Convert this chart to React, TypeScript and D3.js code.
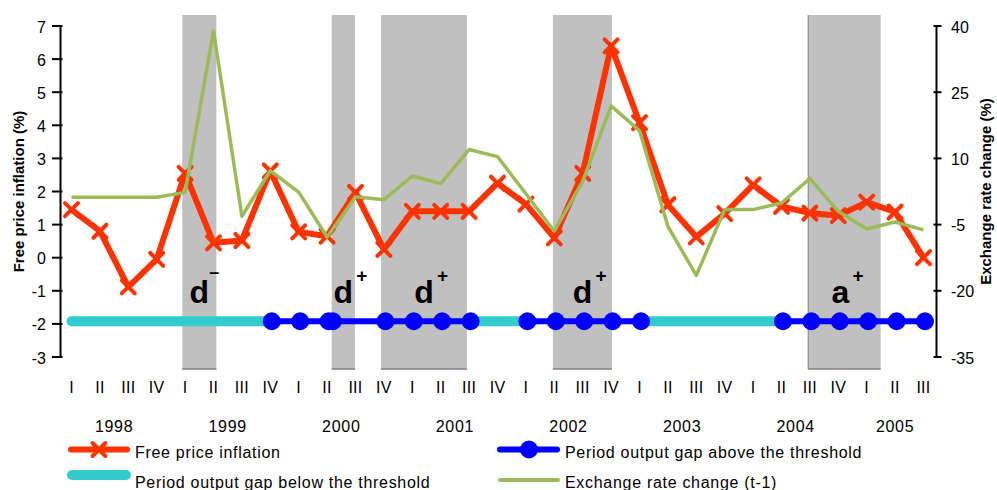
import React from "react";
import * as d3 from "d3";

// ---------- data ----------
const quarterLabels = [
  "I", "II", "III", "IV", "I", "II", "III", "IV", "I", "II", "III", "IV",
  "I", "II", "III", "IV", "I", "II", "III", "IV", "I", "II", "III", "IV",
  "I", "II", "III", "IV", "I", "II", "III",
];
const quarterYears = [
  "1998", "1998", "1998", "1998", "1999", "1999", "1999", "1999",
  "2000", "2000", "2000", "2000", "2001", "2001", "2001", "2001",
  "2002", "2002", "2002", "2002", "2003", "2003", "2003", "2003",
  "2004", "2004", "2004", "2004", "2005", "2005", "2005",
];
const years = ["1998", "1999", "2000", "2001", "2002", "2003", "2004", "2005"];

const freePriceInflation = [
  1.45, 0.8, -0.88, -0.05, 2.55, 0.45, 0.52, 2.62, 0.78, 0.65, 1.97, 0.25,
  1.4, 1.4, 1.4, 2.25, 1.62, 0.6, 2.55, 6.4, 4.08, 1.6, 0.63, 1.33,
  2.2, 1.55, 1.35, 1.27, 1.68, 1.38, 0.0,
];
const exchangeRateChange = [
  1.2, 1.2, 1.2, 1.2, 2.3, 38.9, -3.1, 7.2, 2.35, -7.8, 1.3, 0.65,
  6.0, 4.3, 12.0, 10.4, 2.0, -6.5, 4.8, 21.9, 16.3, -5.4, -16.5, -1.6,
  -1.6, -0.1, 5.4, -2.0, -6.0, -4.4, -6.2,
];
// 1 = output gap above the threshold, 0 = below
const gapAboveThreshold = [
  0, 0, 0, 0, 0, 0, 0, 1, 1, 1, 1, 1, 1, 1, 1, 0,
  1, 1, 1, 1, 1, 0, 0, 0, 0, 1, 1, 1, 1, 1, 1,
];
const gapMarkerQuarters = [7, 8, 9, 9.15, 11, 12, 13, 14, 16, 17, 18, 19, 20, 25, 26, 27, 28, 29, 30];
const gapLevel = -1.92;

const periodStart = [3.9, 9.16, 10.9, 16.95, 25.94];
const periodEnd = [5.1, 9.98, 13.92, 19.03, 28.49];
const periodLetter = ["d", "d", "d", "d", "a"];
const periodSign = ["–", "+", "+", "+", "+"];

const leftTicks = [-3, -2, -1, 0, 1, 2, 3, 4, 5, 6, 7];
const rightTicks = [-35, -20, -5, 10, 25, 40];

// ---------- styles ----------
const FONT = "'Liberation Sans', Arial, sans-serif";
const ORANGE = "#FF3300";
const GREEN = "#9BBB59";
const BLUE = "#0000FF";
const CYAN = "#33CCCC";
const SHADE = "#C0C0C0";

const W = 997;
const H = 490;

function XMark({ cx, cy, r = 6.5 }: { cx: number; cy: number; r?: number }) {
  return (
    <path
      d={`M${cx - r},${cy - r}L${cx + r},${cy + r}M${cx - r},${cy + r}L${cx + r},${cy - r}`}
      stroke={ORANGE}
      strokeWidth={4}
      strokeLinecap="round"
      fill="none"
    />
  );
}

export default function App() {
  const n = freePriceInflation.length;
  const x = d3.scaleLinear().domain([0, n - 1]).range([71.5, 923.5]);
  const yL = d3.scaleLinear().domain([-3, 7]).range([357, 26]);
  const yR = d3.scaleLinear().domain([-35, 40]).range([357, 26]);

  const leftAxisX = 60.5;
  const rightAxisX = 936.5;

  const lineL = d3
    .line<number>()
    .x((_, i) => x(i))
    .y((d) => yL(d));
  const lineR = d3
    .line<number>()
    .x((_, i) => x(i))
    .y((d) => yR(d));

  // runs of the output-gap line
  const runs: { above: boolean; idx: number[] }[] = [];
  for (let i = 0; i < n - 1; i++) {
    const above = !!(gapAboveThreshold[i] && gapAboveThreshold[i + 1]);
    const last = runs[runs.length - 1];
    if (last && last.above === above) last.idx.push(i + 1);
    else runs.push({ above, idx: [i, i + 1] });
  }
  const gapLine = d3
    .line<number>()
    .x((i) => x(i))
    .y(() => yL(gapLevel));

  // year label centers = mean of the quarter positions
  const yearCenters = years.map((yr) => {
    const idx = quarterYears.map((q, i) => (q === yr ? i : -1)).filter((i) => i >= 0);
    return d3.mean(idx.map((i) => x(i))) as number;
  });

  const textStyle = { fontFamily: FONT, fontSize: 16, letterSpacing: 0.7 } as const;

  return (
    <svg
      width={W}
      height={H}
      style={{ position: "absolute", left: 0, top: 0, background: "#fff" }}
    >
      {/* shaded periods */}
      {periodStart.map((s, i) => {
        const x0 = x(s);
        const x1 = x(periodEnd[i]);
        return (
          <g key={"p" + i}>
            <rect x={x0} y={15} width={x1 - x0} height={354} fill={SHADE} />
            <line x1={x0} x2={x1} y1={369} y2={369} stroke="#808080" strokeWidth={1.5} />
            {i === periodStart.length - 1 && (
              <line x1={x0} x2={x0} y1={15} y2={369} stroke="#808080" strokeWidth={1} />
            )}
          </g>
        );
      })}

      {/* period labels */}
      {periodStart.map((s, i) => {
        const isA = periodLetter[i] === "a";
        const cx = (x(s) + x(periodEnd[i])) / 2 - (isA ? 4 : 0);
        const minus = periodSign[i] !== "+";
        return (
          <g key={"l" + i} fontFamily={FONT} fontWeight="bold">
            <text x={cx} y={303} textAnchor="middle" fontSize={32}>
              {periodLetter[i]}
            </text>
            <text
              x={cx + (isA ? 9 : 10) + (minus ? 0 : 3)}
              y={minus ? 277.5 : 281.5}
              fontSize={minus ? 18 : 19}
            >
              {periodSign[i]}
            </text>
          </g>
        );
      })}

      {/* output gap line */}
      {runs
        .filter((r) => !r.above)
        .map((r, i) => (
          <path
            key={"c" + i}
            d={gapLine(r.idx) || ""}
            stroke={CYAN}
            strokeWidth={10}
            strokeLinecap="round"
            fill="none"
          />
        ))}
      {runs
        .filter((r) => r.above)
        .map((r, i) => (
          <path
            key={"b" + i}
            d={gapLine(r.idx) || ""}
            stroke={BLUE}
            strokeWidth={6}
            strokeLinecap="round"
            fill="none"
          />
        ))}
      {gapMarkerQuarters.map((q, i) => (
        <circle key={"m" + i} cx={x(q) + 1.5} cy={yL(gapLevel)} r={9} fill={BLUE} />
      ))}

      {/* free price inflation */}
      <path
        d={lineL(freePriceInflation) || ""}
        stroke={ORANGE}
        strokeWidth={6}
        strokeLinejoin="round"
        fill="none"
      />
      {freePriceInflation.map((v, i) => (
        <XMark key={"x" + i} cx={x(i)} cy={yL(v)} />
      ))}

      {/* exchange rate change */}
      <path
        d={lineR(exchangeRateChange) || ""}
        stroke={GREEN}
        strokeWidth={3.5}
        strokeLinejoin="round"
        fill="none"
      />

      {/* left axis */}
      <line x1={leftAxisX} x2={leftAxisX} y1={yL(7)} y2={yL(-3)} stroke="#000" strokeWidth={2} />
      {leftTicks.map((t) => (
        <g key={"lt" + t}>
          <line x1={52} x2={leftAxisX + 2} y1={yL(t)} y2={yL(t)} stroke="#000" strokeWidth={2} />
          <text x={46} y={yL(t) + 6.5} textAnchor="end" {...textStyle} letterSpacing={0}>
            {t}
          </text>
        </g>
      ))}
      <text
        transform={`translate(24,${(yL(7) + yL(-3)) / 2}) rotate(-90)`}
        textAnchor="middle"
        fontFamily={FONT}
        fontWeight="bold"
        fontSize={15}
      >
        Free price inflation (%)
      </text>

      {/* right axis */}
      <line x1={rightAxisX} x2={rightAxisX} y1={yR(40)} y2={yR(-35)} stroke="#000" strokeWidth={2} />
      {rightTicks.map((t) => (
        <g key={"rt" + t}>
          <line x1={rightAxisX - 3} x2={rightAxisX + 5} y1={yR(t)} y2={yR(t)} stroke="#000" strokeWidth={2} />
          <text x={951} y={yR(t) + 6.5} textAnchor="start" {...textStyle} letterSpacing={0}>
            {t}
          </text>
        </g>
      ))}
      <text
        transform={`translate(991,${(yR(40) + yR(-35)) / 2}) rotate(-90)`}
        textAnchor="middle"
        fontFamily={FONT}
        fontWeight="bold"
        fontSize={15}
      >
        Exchange rate change (%)
      </text>

      {/* x axis labels */}
      {quarterLabels.map((q, i) => (
        <text key={"q" + i} x={x(i)} y={392.5} textAnchor="middle" {...textStyle} letterSpacing={0.3}>
          {q}
        </text>
      ))}
      {years.map((yr, i) => (
        <text key={"y" + yr} x={yearCenters[i]} y={431.5} textAnchor="middle" {...textStyle}>
          {yr}
        </text>
      ))}

      {/* legend */}
      <g>
        <line x1={71} x2={127} y1={449.5} y2={449.5} stroke={ORANGE} strokeWidth={6} strokeLinecap="round" />
        <XMark cx={99} cy={449.5} />
        <text x={135} y={457.5} {...textStyle}>Free price inflation</text>

        <line x1={72} x2={126} y1={475} y2={475} stroke={CYAN} strokeWidth={10} strokeLinecap="round" />
        <text x={135} y={487.5} {...textStyle}>Period output gap below the threshold</text>

        <line x1={500} x2={557} y1={449.5} y2={449.5} stroke={BLUE} strokeWidth={6} strokeLinecap="round" />
        <circle cx={529} cy={449.5} r={9} fill={BLUE} />
        <text x={565} y={457.5} {...textStyle}>Period output gap above the threshold</text>

        <line x1={500} x2={558} y1={480} y2={480} stroke={GREEN} strokeWidth={4} strokeLinecap="round" />
        <text x={565} y={487.5} {...textStyle}>Exchange rate change (t-1)</text>
      </g>
    </svg>
  );
}
